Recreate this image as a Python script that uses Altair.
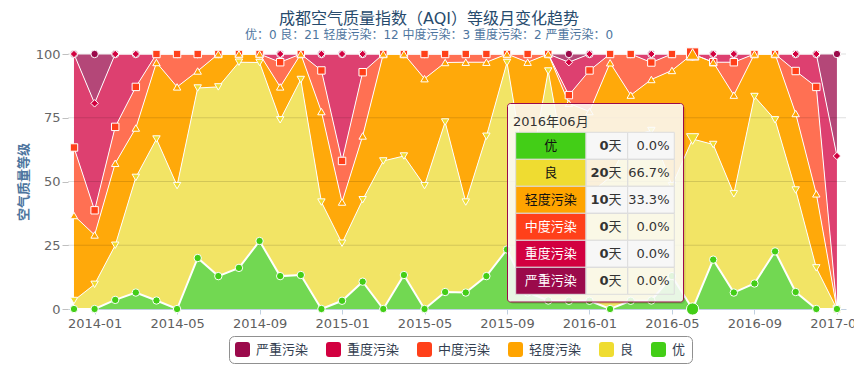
import json
import altair as alt
import pandas as pd

FONT = "DejaVu Sans, Noto Sans CJK SC"

months = ["2013-12",
          "2014-01", "2014-02", "2014-03", "2014-04", "2014-05", "2014-06",
          "2014-07", "2014-08", "2014-09", "2014-10", "2014-11", "2014-12",
          "2015-01", "2015-02", "2015-03", "2015-04", "2015-05", "2015-06",
          "2015-07", "2015-08", "2015-09", "2015-10", "2015-11", "2015-12",
          "2016-01", "2016-02", "2016-03", "2016-04", "2016-05", "2016-06",
          "2016-07", "2016-08", "2016-09", "2016-10", "2016-11", "2016-12",
          "2017-01"]
categories = ["优", "良", "轻度污染", "中度污染", "重度污染", "严重污染"]

# days per month in each grade
you      = [0, 0, 1, 2, 1, 0, 6, 4, 5, 8, 4, 4, 0, 1, 3, 0, 4, 0, 2, 2, 4, 7, 2, 1, 1, 1, 0, 1, 1, 4, 0, 6, 2, 3, 7, 2, 0, 0]
liang    = [1, 3, 6, 14, 19, 15, 20, 23, 25, 21, 19, 23, 13, 7, 9, 18, 14, 15, 20, 11, 17, 22, 13, 27, 14, 13, 15, 20, 20, 11, 20, 14, 12, 22, 16, 12, 5, 0]
qingdu   = [10, 6, 9, 6, 9, 12, 2, 4, 1, 1, 4, 3, 11, 5, 7, 13, 12, 13, 7, 17, 9, 1, 15, 2, 10, 10, 13, 5, 6, 14, 10, 10, 12, 5, 8, 9, 9, 0]
zhongdu  = [8, 3, 4, 5, 1, 4, 2, 0, 0, 0, 3, 0, 5, 5, 7, 0, 0, 3, 1, 1, 1, 0, 1, 0, 1, 5, 1, 5, 2, 2, 0, 0, 4, 0, 0, 5, 13, 0]
zhongdu2 = [11, 13, 8, 4, 0, 0, 0, 0, 0, 0, 1, 0, 2, 13, 2, 0, 0, 0, 0, 0, 0, 0, 0, 0, 4, 2, 0, 0, 1, 0, 0, 1, 1, 0, 0, 2, 4, 3]
yanzhong = [0, 6, 0, 0, 0, 0, 0, 0, 0, 0, 0, 0, 0, 0, 0, 0, 0, 0, 0, 0, 0, 0, 0, 0, 1, 0, 0, 0, 0, 0, 0, 0, 0, 0, 0, 0, 0, 2]
series = [you, liang, qingdu, zhongdu, zhongdu2, yanzhong]

subtitle_counts = [0, 21, 12, 3, 2, 0]
y_ticks = [0, 25, 50, 75, 100]
x_tick_idx = list(range(1, len(months), 4))
hover_idx = months.index("2016-06")

base_colors = ["#43ce17", "#efdc31", "#ffa400", "#ff401a", "#d20040", "#9b0a4b"]
area_colors = ["#72d852", "#f2e465", "#ffa90a", "#ff7053", "#dd4070", "#b44778"]
shapes = ["circle", "triangle-down", "triangle-up", "square", "diamond", "circle"]
ROUNDED = "M -1 -0.6 Q -1 -1 -0.6 -1 L 0.6 -1 Q 1 -1 1 -0.6 L 1 0.6 Q 1 1 0.6 1 L -0.6 1 Q -1 1 -1 0.6 Z"

rows = []
for mi, mo in enumerate(months):
    for ci, cat in enumerate(categories):
        rows.append({"m": mi, "month": mo, "cat": cat, "idx": ci,
                     "rev": len(categories) - 1 - ci, "count": series[ci][mi]})
df = pd.DataFrame(rows)

base = (alt.Chart(df)
        .transform_joinaggregate(total="sum(count)", groupby=["m"])
        .transform_calculate(pct="100 * datum.count / datum.total")
        .transform_window(cum="sum(pct)", groupby=["m"], sort=[alt.SortField("idx")], frame=[None, 0])
        .transform_calculate(lower="datum.cum - datum.pct"))

x_enc = alt.X("m:Q",
              scale=alt.Scale(domain=[-0.29, len(months) - 1 + 0.44], nice=False, zero=False),
              axis=alt.Axis(values=x_tick_idx, labelExpr=json.dumps(months) + "[datum.value]",
                            title=None, grid=False, domainColor="#c0d0e0", tickColor="#c0d0e0",
                            tickSize=5, labelFontSize=13, labelColor="#606060", labelPadding=3,
                            labelFlush=False, labelOverlap=False, labelFont=FONT))
y_axis = alt.Axis(values=y_ticks, title="空气质量等级", titleColor="#4d759e", titleFontSize=13,
                  titleFontWeight="bold", titleAngle=270, titleX=-44.5, titleY=127.5,
                  titleAlign="center", titleBaseline="middle", titleFont=FONT,
                  labelFontSize=13, labelColor="#666666", labelPadding=2, labelFont=FONT,
                  tickSize=6, tickColor="#c0c0c0", domain=False, grid=False)
y_scale = alt.Scale(domain=[0, 100], nice=False)

fill_enc = alt.Fill("cat:N",
                    scale=alt.Scale(domain=categories[::-1], range=base_colors[::-1]),
                    legend=alt.Legend(title=None, orient="none", legendX=161, legendY=282,
                                      direction="horizontal", columns=6, symbolType=ROUNDED,
                                      symbolSize=225, symbolStrokeWidth=0, symbolOpacity=1,
                                      labelFontSize=13, labelColor="#333e50", labelFont=FONT,
                                      strokeColor="#909090", cornerRadius=5, padding=6,
                                      columnPadding=17, labelOffset=6))

area = base.mark_area(interpolate="linear").encode(
    x=x_enc,
    y=alt.Y("cum:Q", scale=y_scale, axis=y_axis),
    y2="lower:Q",
    color=alt.Color("cat:N", scale=alt.Scale(domain=categories, range=area_colors), legend=None),
)

grid = alt.Chart(pd.DataFrame({"v": y_ticks[1:]})).mark_rule(color="#000000", opacity=0.13, strokeWidth=1).encode(
    y=alt.Y("v:Q", scale=y_scale, axis=y_axis)
)

lines = base.transform_filter("datum.idx > 0").mark_line(color="white", strokeWidth=1).encode(
    x=x_enc, y=alt.Y("cum:Q", scale=y_scale, axis=y_axis), detail="cat:N")
line_green = base.transform_filter("datum.idx == 0").mark_line(color="white", strokeWidth=2).encode(
    x=x_enc, y=alt.Y("cum:Q", scale=y_scale, axis=y_axis))

points = base.mark_point(filled=True, stroke="white", strokeWidth=1, opacity=1).encode(
    x=x_enc,
    y=alt.Y("cum:Q", scale=y_scale, axis=y_axis),
    fill=fill_enc,
    shape=alt.Shape("cat:N", scale=alt.Scale(domain=categories, range=shapes), legend=None),
    size=alt.condition(f"datum.m == {hover_idx}", alt.value(150), alt.value(55)),
    order=alt.Order("rev:Q"),
)

# ---- tooltip for the hovered month ----
one = alt.Chart(pd.DataFrame({"k": [0]}))
hm = months[hover_idx]
tip_title = f"{hm[:4]}年{hm[5:]}月"
TX0, TX1, TY0, TY1 = 439.5, 615.5, 49.5, 248
C0, C1, C2, C3 = 447.7, 518, 559.7, 606.3
ROW0, ROWH = 78.3, 27

shadow = one.mark_rect(fill="#000000", opacity=0.10, cornerRadius=4).encode(
    x=alt.value(TX0 + 2), x2=alt.value(TX1 + 2), y=alt.value(TY0 + 2), y2=alt.value(TY1 + 2))
box = one.mark_rect(fill="white", fillOpacity=0.85, stroke="#9b0a4b", strokeWidth=1, cornerRadius=3).encode(
    x=alt.value(TX0), x2=alt.value(TX1), y=alt.value(TY0), y2=alt.value(TY1))
header = one.mark_text(text=tip_title, align="left", baseline="alphabetic", fontSize=13,
                       color="#333333", font=FONT).encode(x=alt.value(445), y=alt.value(72))

tip = (base.transform_filter(f"datum.m == {hover_idx}")
       .transform_calculate(ry0=f"{ROW0} + {ROWH} * datum.idx",
                            ry1=f"{ROW0} + {ROWH} * (datum.idx + 1)",
                            ty=f"{ROW0} + {ROWH} * (datum.idx + 0.5)",
                            pctlabel="format(datum.pct, '.1f') + '%'"))

name_cells = tip.mark_rect(stroke="#dddddd", strokeWidth=1).encode(
    x=alt.value(C0), x2=alt.value(C1), y=alt.Y("ry0:Q", scale=None), y2="ry1:Q", fill=fill_enc)
count_cells = tip.mark_rect(stroke="#dddddd", strokeWidth=1).encode(
    x=alt.value(C1), x2=alt.value(C2), y=alt.Y("ry0:Q", scale=None), y2="ry1:Q",
    fill=alt.condition("datum.idx % 2 == 0", alt.value("#f7f7f7"), alt.value("transparent")))
pct_cells = tip.mark_rect(stroke="#dddddd", strokeWidth=1).encode(
    x=alt.value(C2), x2=alt.value(C3), y=alt.Y("ry0:Q", scale=None), y2="ry1:Q",
    fill=alt.condition("datum.idx % 2 == 0", alt.value("#f7f7f7"), alt.value("transparent")))
name_text = tip.mark_text(fontSize=13, align="center", baseline="middle", font=FONT).encode(
    x=alt.value((C0 + C1) / 2), y=alt.Y("ty:Q", scale=None), text="cat:N",
    color=alt.condition("datum.idx >= 3", alt.value("white"), alt.value("#111111")))
count_text = tip.mark_text(fontSize=13, align="right", baseline="middle", fontWeight="bold",
                           font=FONT, color="#333333").encode(
    x=alt.value(540.5), y=alt.Y("ty:Q", scale=None), text="count:Q")
tian_text = tip.mark_text(fontSize=13, align="left", baseline="middle", text="天",
                          font=FONT, color="#333333").encode(
    x=alt.value(540.5), y=alt.Y("ty:Q", scale=None))
pct_text = tip.mark_text(fontSize=13, align="right", baseline="middle", font=FONT,
                         color="#333333").encode(
    x=alt.value(601.5), y=alt.Y("ty:Q", scale=None), text="pctlabel:N")

subtitle = " ".join(f"{c}：{n}" for c, n in zip(categories, subtitle_counts))

chart = alt.layer(
    area, grid, lines, line_green, points,
    shadow, box, header, name_cells, count_cells, pct_cells,
    name_text, count_text, tian_text, pct_text,
).properties(
    width=778, height=255,
    autosize=alt.AutoSizeParams(type="none"),
    padding={"left": 60, "top": 46, "right": 8, "bottom": 61},
    title=alt.TitleParams(text="成都空气质量指数（AQI）等级月变化趋势", subtitle=subtitle,
                          anchor="middle", dx=-28, fontSize=16, fontWeight="normal",
                          color="#274b6d", subtitleColor="#4d759e", subtitleFontSize=12,
                          font=FONT, subtitleFont=FONT, offset=5, subtitlePadding=3),
).configure_view(stroke=None)

chart.save("out.html", embed_options={"renderer": "svg", "actions": False})
